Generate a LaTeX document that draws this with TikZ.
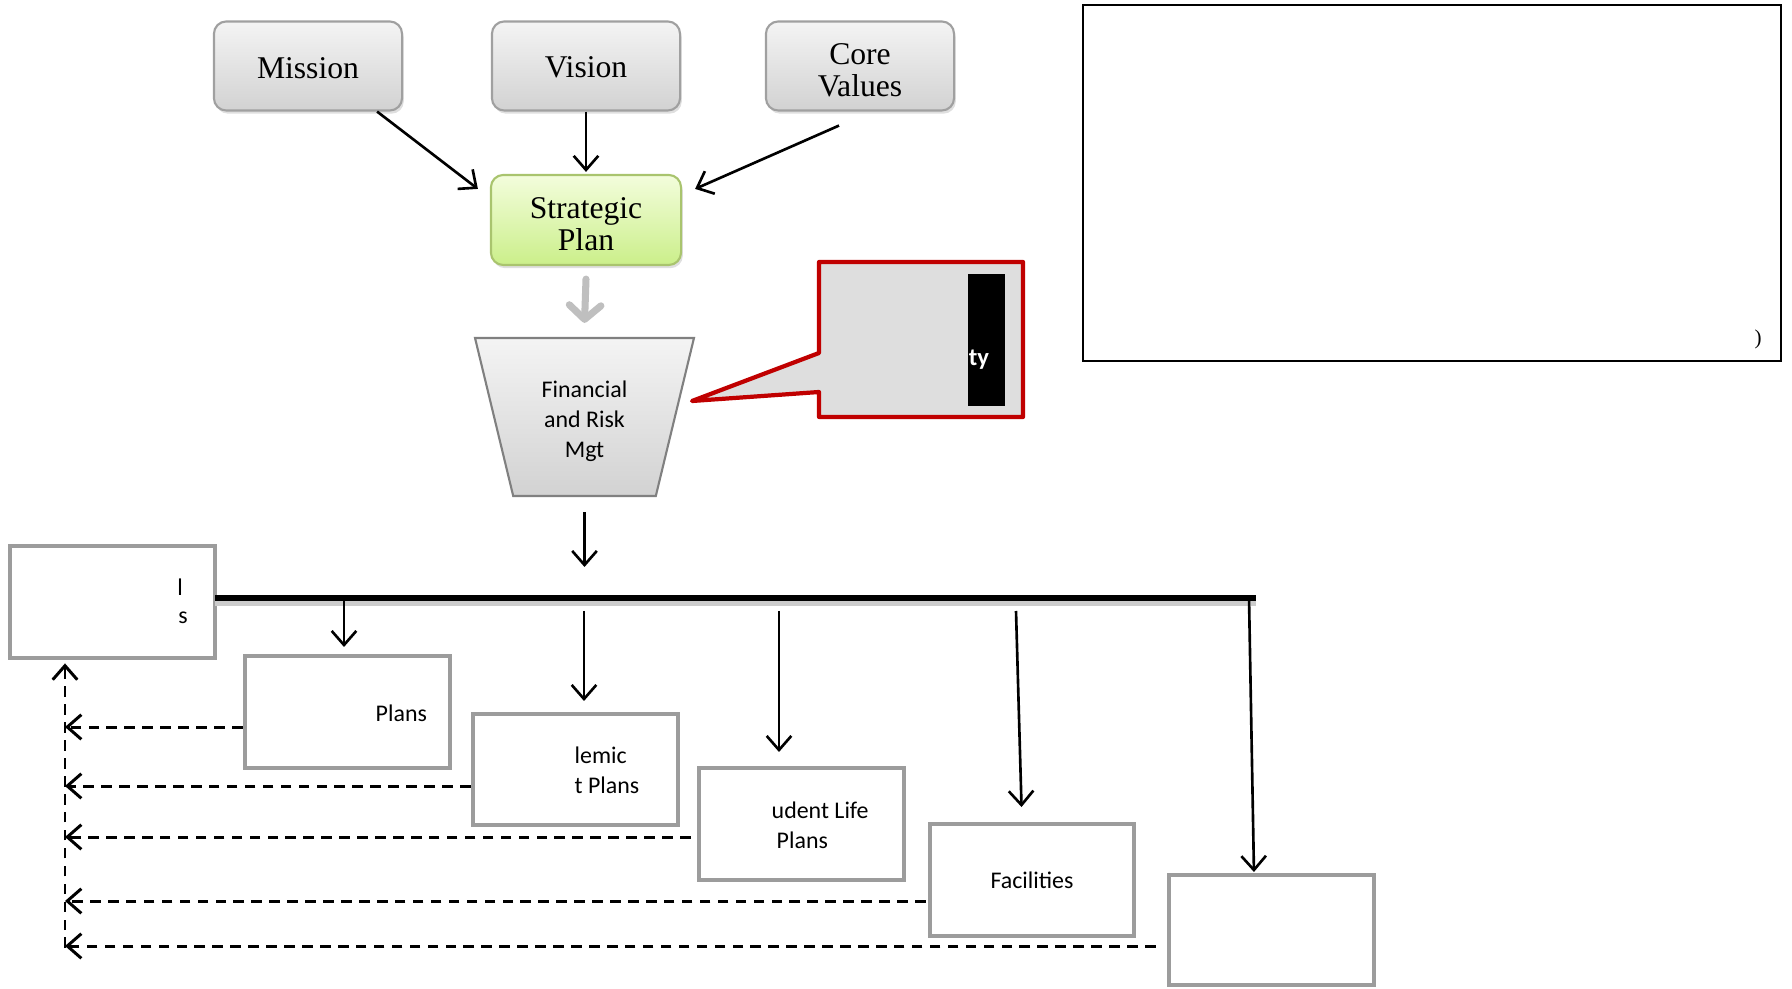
\documentclass[tikz,border=0pt]{standalone}
\usepackage{fontspec}
\setmainfont{Liberation Serif}
\newfontfamily\calibri{Carlito}
\usetikzlibrary{arrows.meta,shapes.geometric,shadows}

\definecolor{topedge}{HTML}{A0A0A0}
\definecolor{topT}{HTML}{F4F4F4}
\definecolor{topB}{HTML}{D2D2D2}
\definecolor{greenT}{HTML}{F3FDDC}
\definecolor{greenB}{HTML}{CBEF8A}
\definecolor{greenedge}{HTML}{A9C46E}
\definecolor{planedge}{HTML}{9C9C9C}
\definecolor{calloutred}{HTML}{C00000}
\definecolor{calloutfill}{HTML}{DEDEDE}

\begin{document}
\begin{tikzpicture}[x=0.01cm, y=-0.01cm,
  topbox/.style={draw=topedge, line width=0.6pt, rounded corners=3.5pt, top color=topT, bottom color=topB,
    minimum width=1.88cm, minimum height=0.89cm,
    drop shadow={opacity=0.25, shadow xshift=0.5pt, shadow yshift=-0.9pt}},
  toplbl/.style={yshift=-1.2pt, align=center, font=\fontsize{9}{9.3}\selectfont},
  planbox/.style={draw=planedge, line width=1.35pt, minimum width=2.05cm, minimum height=1.12cm,
    font=\calibri\fontsize{6.8}{8.5}\selectfont},
  arr/.style={-{Straight Barb[length=4pt,width=7pt]}, line width=0.75pt},
  dasharr/.style={arr, line width=0.85pt, dash pattern=on 3pt off 2.1pt},
  lbl/.style={font=\calibri\fontsize{6.8}{8.5}\selectfont, inner sep=0pt, anchor=west}]
\useasboundingbox (0,0) rectangle (1792,989);

% top row
\node[topbox, label={[toplbl, yshift=0.7pt]center:Mission}] (mission) at (308,66) {};
\node[topbox, label={[toplbl, yshift=0.8pt]center:Vision}] (vision) at (586,66) {};
\node[topbox, label={[toplbl]center:{Core\\Values}}] (core) at (860,66) {};
\node[topbox, draw=greenedge, top color=greenT, bottom color=greenB, minimum width=1.9cm, minimum height=0.9cm,
  label={[toplbl]center:{Strategic\\Plan}}] (strat) at (586,220) {};

\draw[arr] ([xshift=-0.26cm]mission.south east) -- ([xshift=-0.12cm, yshift=-0.15cm]strat.north west);
\draw[arr, shorten >=0.02cm] (vision.south) -- (strat.north);
\draw[arr] ([xshift=-0.21cm, yshift=-0.14cm]core.south) -- ([xshift=0.13cm, yshift=-0.15cm]strat.north east);

% funnel
\node[trapezium, shape border rotate=180, trapezium angle=75, trapezium stretches=true,
  minimum width=2.19cm, minimum height=1.58cm, draw=gray, line width=0.6pt,
  top color=topT, bottom color=topB,
  label={[yshift=-1.1pt, align=center, font=\calibri\fontsize{6.8}{8.5}\selectfont]center:{Financial\\and Risk\\Mgt}}] (frm) at (584.5,417) {};
\draw[line width=2pt, line cap=round, black!25, -{Straight Barb[length=4pt,width=9pt,round]}]
  ([yshift=-0.13cm]strat.south) -- ([yshift=0.14cm]frm.north);

% callout
\draw[calloutred, line width=1.2pt, fill=calloutfill, line join=round]
  (819,262) -- (1023,262) -- (1023,417) -- (819,417) -- (819,392) -- (692,401) -- (819,353) -- cycle;
\fill[black] (968,274) rectangle (1005,406);
\node[font=\calibri\bfseries\fontsize{7}{8}\selectfont, text=white, inner sep=0pt] (calloutlbl) at (979,360) {ty};

% right panel
\draw[line width=0.8pt] (1083,5) rectangle (1781,361);
\node[font=\fontsize{6}{7}\selectfont, inner sep=0pt] (panellbl) at (1758,339) {)};

% plans
\node[planbox] (box1) at (112.5,602) {};
\node[planbox] (box2) at (347.5,712) {};
\node[planbox, minimum height=1.11cm] (box3) at (575.5,769.5) {};
\node[planbox] (box4) at (801.5,824) {};
\node[planbox, minimum width=2.04cm] (box5) at (1032,880) {Facilities};
\node[planbox, minimum height=1.1cm] (box6) at (1271.5,930) {};

\node[lbl, anchor=center] at (180,587) {l};
\node[lbl, anchor=center] at (183,618) {s};
\node[lbl] at (375,713) {Plans};
\node[lbl] at (574,755) {lemic};
\node[lbl] at (574,785) {t Plans};
\node[lbl] at (771,810) {udent Life};
\node[lbl] at (776,840) {Plans};

% bar
\coordinate (barL) at (215,598);
\coordinate (barR) at (1256,598);
\draw[line width=1.5pt, black!20] ([yshift=-1.4pt]barL) -- ([yshift=-1.4pt]barR);
\draw[line width=1.5pt] (barL) -- (barR);
\draw[arr] ([yshift=-0.15cm]frm.south) -- (frm.south |- 0,567);

\draw[arr, shorten >=0.09cm] (344,598) -- (344,656);
\draw[arr, shorten >=0.13cm] (584,611) -- (584,714);
\draw[arr, shorten >=0.16cm] (779,611) -- (779,768);
\draw[arr, shorten >=0.17cm] (1016,611) -- (1022,824);
\draw[arr, shorten >=0.03cm] (1249,598) -- (1254,875);

% feedback
\coordinate (rail) at (65,948);
\draw[dasharr, shorten >=0.03cm] (rail) -- (rail |- box1.south);
\draw[dasharr] ([yshift=-0.15cm]box2.west) -- ([yshift=-0.15cm]box2.west -| rail);
\draw[dasharr] ([yshift=-0.165cm]box3.west) -- ([yshift=-0.165cm]box3.west -| rail);
\draw[dasharr] ([xshift=-0.06cm, yshift=-0.13cm]box4.west) -- ([yshift=-0.13cm]box4.west -| rail);
\draw[dasharr] ([xshift=-0.02cm, yshift=-0.21cm]box5.west) -- ([yshift=-0.21cm]box5.west -| rail);
\draw[dasharr] ([xshift=-0.11cm, yshift=-0.16cm]box6.west) -- ([yshift=-0.16cm]box6.west -| rail);
\end{tikzpicture}
\end{document}
